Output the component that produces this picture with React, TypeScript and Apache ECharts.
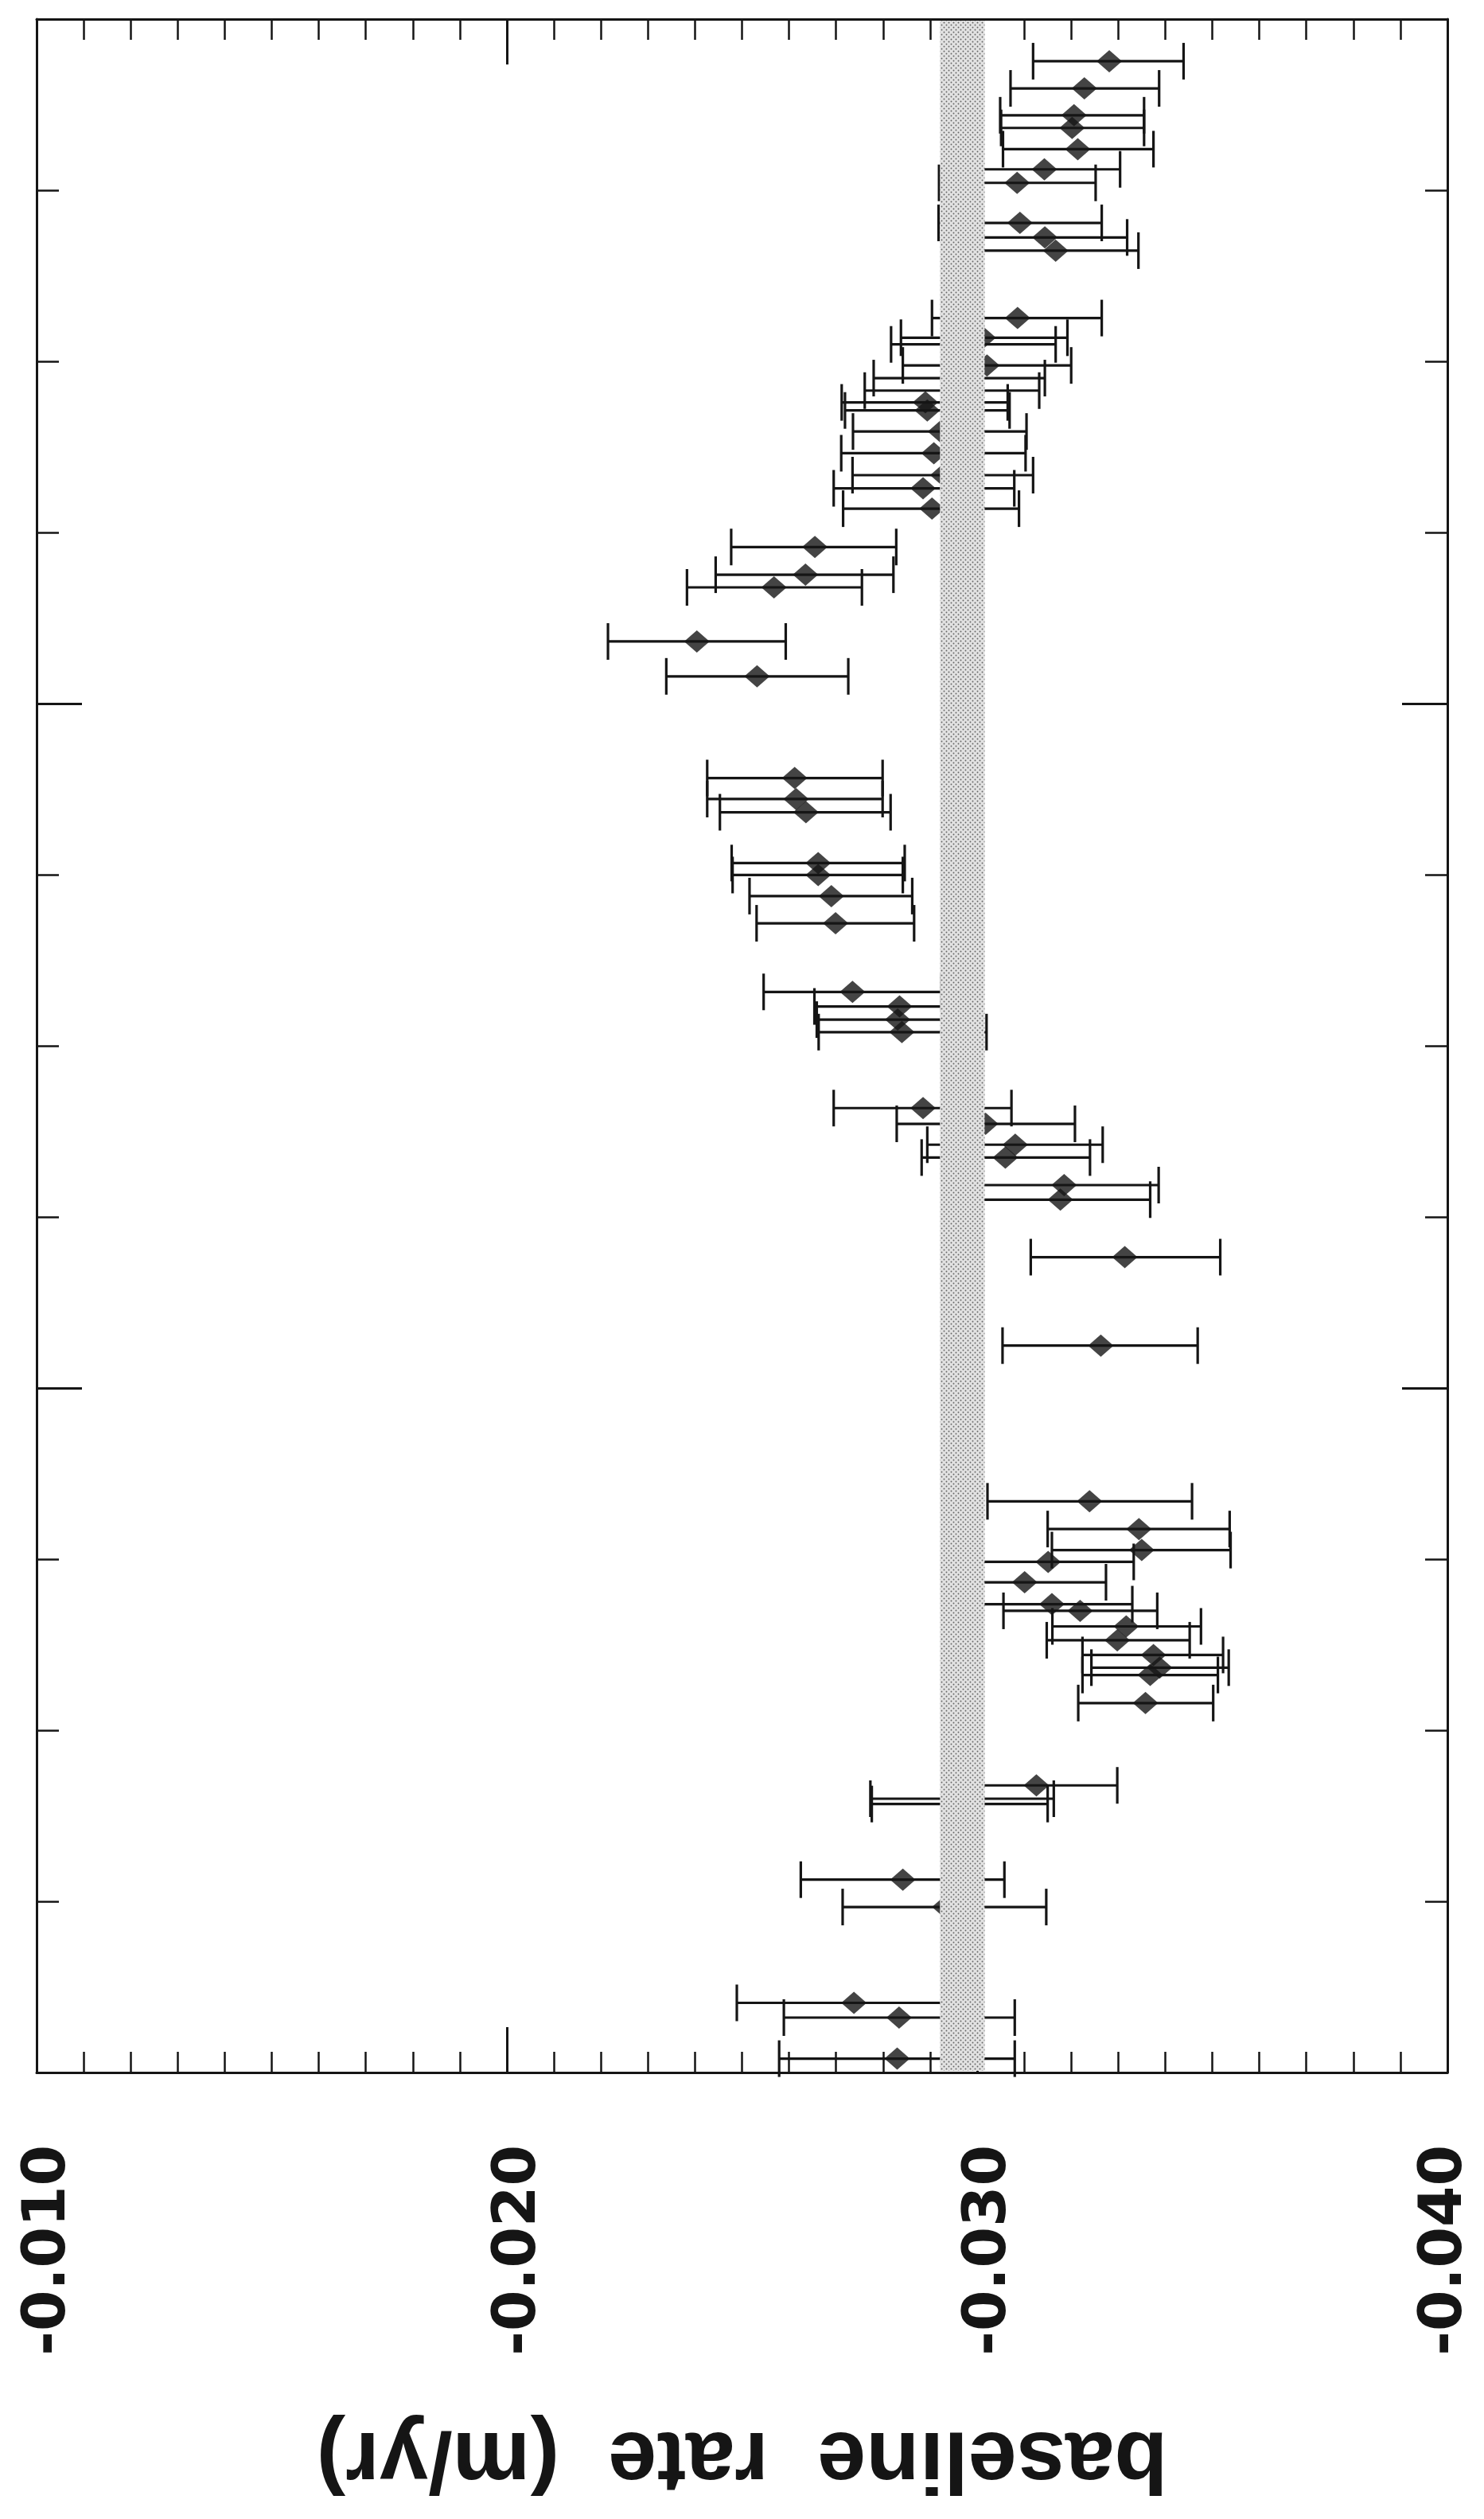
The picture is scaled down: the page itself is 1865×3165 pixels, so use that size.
import React, { useEffect, useRef } from 'react';
import * as echarts from 'echarts';

// time position of each measurement (axis units: quarter-year ticks, 0 at top, 12 at bottom)
const epoch = [
  0.246, 0.405, 0.562, 0.636, 0.760, 0.878, 0.957, 1.191, 1.276, 1.353,
  1.747, 1.862, 1.901, 2.024, 2.098, 2.171, 2.240, 2.287, 2.410, 2.537,
  2.665, 2.742, 2.861, 3.085, 3.247, 3.321, 3.637, 3.841, 4.435, 4.558,
  4.635, 4.932, 5.002, 5.125, 5.284, 5.685, 5.770, 5.847, 5.920, 6.364,
  6.456, 6.578, 6.653, 6.814, 6.899, 7.235, 7.752, 8.662, 8.824, 8.947,
  9.016, 9.135, 9.263, 9.302, 9.393, 9.474, 9.560, 9.634, 9.677, 9.841,
  10.322, 10.400, 10.431, 10.873, 11.033, 11.593, 11.679, 11.919,
];

// baseline rate estimate (m/yr)
const rate = [
  -0.03281, -0.03228, -0.03206, -0.03202, -0.03214, -0.03143, -0.03085, -0.03091, -0.03144, -0.03167,
  -0.03086, -0.03013, -0.02992, -0.03021, -0.02962, -0.02946, -0.02890, -0.02894, -0.02922, -0.02908,
  -0.02927, -0.02885, -0.02904, -0.02655, -0.02635, -0.02568, -0.02404, -0.02532, -0.02612, -0.02615,
  -0.02636, -0.02662, -0.02662, -0.02690, -0.02699, -0.02735, -0.02835, -0.02831, -0.02840, -0.02885,
  -0.03018, -0.03081, -0.03060, -0.03185, -0.03177, -0.03314, -0.03263, -0.03239, -0.03344, -0.03350,
  -0.03151, -0.03101, -0.03159, -0.03219, -0.03317, -0.03298, -0.03375, -0.03388, -0.03368, -0.03358,
  -0.03126, -0.02968, -0.02963, -0.02842, -0.02931, -0.02738, -0.02834, -0.02830,
];

// error bar end, less negative side
const rateUpper = [
  -0.03119, -0.03071, -0.03049, -0.03051, -0.03055, -0.02982, -0.02919, -0.02918, -0.02969, -0.02990,
  -0.02904, -0.02838, -0.02817, -0.02842, -0.02780, -0.02761, -0.02712, -0.02719, -0.02736, -0.02711,
  -0.02735, -0.02695, -0.02715, -0.02477, -0.02444, -0.02383, -0.02215, -0.02339, -0.02426, -0.02426,
  -0.02453, -0.02478, -0.02480, -0.02516, -0.02531, -0.02546, -0.02654, -0.02659, -0.02663, -0.02695,
  -0.02829, -0.02894, -0.02882, -0.02983, -0.02986, -0.03114, -0.03054, -0.03022, -0.03150, -0.03159,
  -0.02970, -0.02928, -0.02988, -0.03056, -0.03160, -0.03148, -0.03224, -0.03243, -0.03224, -0.03215,
  -0.02953, -0.02773, -0.02776, -0.02625, -0.02714, -0.02489, -0.02589, -0.02579,
];

// error bar end, more negative side
const rateLower = [
  -0.03439, -0.03387, -0.03355, -0.03355, -0.03375, -0.03304, -0.03252, -0.03265, -0.03319, -0.03343,
  -0.03265, -0.03192, -0.03167, -0.03200, -0.03144, -0.03132, -0.03065, -0.03069, -0.03105, -0.03103,
  -0.03119, -0.03079, -0.03089, -0.02828, -0.02822, -0.02755, -0.02593, -0.02726, -0.02799, -0.02799,
  -0.02816, -0.02846, -0.02842, -0.02862, -0.02866, -0.02924, -0.03012, -0.03006, -0.03020, -0.03073,
  -0.03208, -0.03267, -0.03240, -0.03386, -0.03368, -0.03517, -0.03469, -0.03457, -0.03537, -0.03539,
  -0.03333, -0.03274, -0.03330, -0.03383, -0.03476, -0.03452, -0.03523, -0.03535, -0.03512, -0.03502,
  -0.03298, -0.03163, -0.03150, -0.03058, -0.03147, -0.02987, -0.03080, -0.03080,
];

// shaded reference band (m/yr)
const bandRange = [-0.02921, -0.03016];

// axis ranges
const rateAxis = { min: -0.04, max: -0.01, step: 0.01 };
const epochAxis = { min: 0, max: 12, step: 4 };
const axisTitle = 'baseline  rate  (m/yr)';

export default function App() {
  const ref = useRef<HTMLDivElement>(null);

  useEffect(() => {
    if (!ref.current) return;
    const chart = echarts.init(ref.current, undefined, { renderer: 'svg' });

    // stippled fill for the band
    const cv = document.createElement('canvas');
    cv.width = 6;
    cv.height = 6;
    const ctx = cv.getContext('2d');
    let bandFill: any = '#cfcfcf';
    if (ctx) {
      ctx.fillStyle = '#e2e2e2';
      ctx.fillRect(0, 0, 6, 6);
      ctx.fillStyle = '#666666';
      ctx.beginPath();
      ctx.arc(1.5, 1.5, 0.95, 0, Math.PI * 2);
      ctx.arc(4.5, 4.5, 0.95, 0, Math.PI * 2);
      ctx.fill();
      bandFill = { image: cv, repeat: 'repeat' };
    }

    const ink = '#151515';
    const labelFont = {
      fontSize: 74,
      lineHeight: 56,
      fontWeight: 'bold',
      fontFamily: 'DejaVu Sans',
      color: ink,
    };
    const xAxisBase = {
      type: 'value',
      min: rateAxis.min,
      max: rateAxis.max,
      interval: rateAxis.step,
      inverse: true,
      splitLine: { show: false },
      minorSplitLine: { show: false },
      axisLine: { show: true, onZero: false, lineStyle: { color: ink, width: 3 } },
      axisTick: { show: true, inside: true, length: 57, lineStyle: { color: ink, width: 3 } },
      minorTick: { show: true, splitNumber: 10, length: 26, lineStyle: { color: ink, width: 2.5 } },
    };
    const yAxisBase = {
      type: 'value',
      min: epochAxis.min,
      max: epochAxis.max,
      interval: epochAxis.step,
      inverse: true,
      splitLine: { show: false },
      minorSplitLine: { show: false },
      axisLabel: { show: false },
      axisLine: { show: true, onZero: false, lineStyle: { color: ink, width: 3 } },
      axisTick: { show: true, inside: true, length: 57, lineStyle: { color: ink, width: 3 } },
      minorTick: { show: true, splitNumber: 4, length: 28, lineStyle: { color: ink, width: 2.5 } },
    };

    const option: any = {
      animation: false,
      backgroundColor: '#ffffff',
      grid: { left: 46, right: 38, top: 24, bottom: 561, containLabel: false },
      xAxis: [
        {
          ...xAxisBase,
          position: 'bottom',
          axisLabel: {
            show: true,
            rotate: 90,
            margin: 91,
            ...labelFont,
            showMinLabel: true,
            showMaxLabel: true,
            formatter: (v: number) => {
              const s = v.toFixed(3);
              return v < rateAxis.min + rateAxis.step / 2 ? `{r|${s}}` : `{l|${s}}`;
            },
            rich: {
              l: { ...labelFont, padding: [18, 0, 0, 0] },
              r: { ...labelFont, padding: [0, 0, 18, 0] },
            },
          },
          name: axisTitle,
          nameLocation: 'middle',
          nameRotate: 180,
          nameGap: 436,
          nameTextStyle: {
            fontSize: 110,
            fontWeight: 'bold',
            fontFamily: 'Liberation Sans',
            color: ink,
          },
        },
        { ...xAxisBase, position: 'top', axisLabel: { show: false } },
      ],
      yAxis: [
        { ...yAxisBase, position: 'left' },
        { ...yAxisBase, position: 'right' },
      ],
      series: [
        {
          type: 'custom',
          name: 'error bars',
          xAxisIndex: 0,
          yAxisIndex: 0,
          z: 2,
          silent: true,
          data: epoch.map((t, i) => [rateUpper[i], rateLower[i], t]),
          encode: { x: [0, 1], y: 2 },
          renderItem: (params: any, api: any) => {
            const a = api.coord([api.value(0), api.value(2)]);
            const b = api.coord([api.value(1), api.value(2)]);
            const h = 23;
            const style = { stroke: ink, lineWidth: 3.2, fill: 'none' };
            return {
              type: 'group',
              children: [
                { type: 'line', shape: { x1: a[0], y1: a[1], x2: b[0], y2: b[1] }, style },
                { type: 'line', shape: { x1: a[0], y1: a[1] - h, x2: a[0], y2: a[1] + h }, style },
                { type: 'line', shape: { x1: b[0], y1: b[1] - h, x2: b[0], y2: b[1] + h }, style },
              ],
            };
          },
        },
        {
          type: 'scatter',
          name: 'baseline rate',
          xAxisIndex: 0,
          yAxisIndex: 0,
          z: 3,
          silent: true,
          symbol: 'diamond',
          symbolSize: [32, 28],
          itemStyle: { color: ink },
          data: epoch.map((t, i) => [rate[i], t]),
        },
        {
          type: 'custom',
          name: 'band',
          xAxisIndex: 0,
          yAxisIndex: 0,
          z: 10,
          silent: true,
          data: [[bandRange[0], bandRange[1], epochAxis.min, epochAxis.max]],
          encode: { x: [0, 1], y: [2, 3] },
          renderItem: (params: any, api: any) => {
            const a = api.coord([api.value(0), api.value(2)]);
            const b = api.coord([api.value(1), api.value(3)]);
            const x = Math.min(a[0], b[0]);
            const y = Math.min(a[1], b[1]) + 2;
            return {
              type: 'rect',
              shape: { x, y, width: Math.abs(b[0] - a[0]), height: Math.abs(b[1] - a[1]) - 4 },
              style: { fill: bandFill, stroke: 'none' },
            };
          },
        },
      ],
    };

    chart.setOption(option);
    return () => chart.dispose();
  }, []);

  return (
    <div
      ref={ref}
      style={{ position: 'absolute', left: 0, top: 0, width: 1865, height: 3165, background: '#fff' }}
    />
  );
}
